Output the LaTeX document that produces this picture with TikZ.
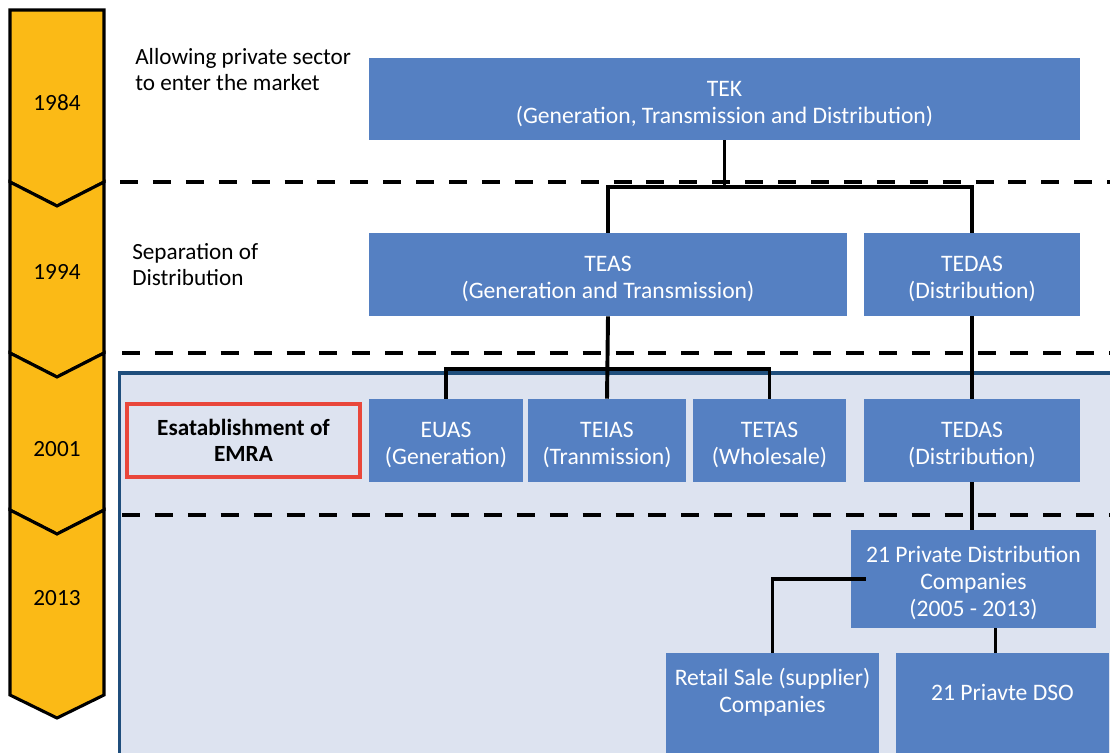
\documentclass[tikz,border=0pt]{standalone}
\usepackage{fontspec}
\setmainfont{Carlito}
\usepackage{tikz}
\newcommand{\px}{0.025cm}
\newcommand{\boxstrut}{\rule{0pt}{17.5pt}}
\definecolor{yearyellow}{HTML}{FBBA16}
\definecolor{boxblue}{HTML}{5580C2}
\definecolor{panelfill}{HTML}{DDE3F0}
\definecolor{panelline}{HTML}{1F4E7C}
\definecolor{emrared}{HTML}{E9473B}
\tikzset{
  orgbox/.style 2 args={rectangle, fill=boxblue, text=white, align=center, inner sep=0pt,
    minimum width=#1*\px, minimum height=#2*\px,
    font=\fontsize{16.8}{19.1}\selectfont},
  note/.style={align=left, inner sep=0pt, font=\fontsize{16.5}{18.5}\selectfont},
  year/.style={inner sep=0pt, font=\fontsize{16.5}{18.5}\selectfont},
  link/.style={line width=2.8pt},
  sepline/.style={line width=2.8pt, dash pattern=on 12.8pt off 10.6pt}
}

\begin{document}
\begin{tikzpicture}[x=\px, y=-\px]
\clip (0,0) rectangle (1110,752);
% regulated period panel
\draw[fill=panelfill, draw=panelline, line width=2.8pt] (119.5,373) rectangle (1130,780);
% time line
\begin{scope}[fill=yearyellow, draw=black, line width=2.2pt]
 \filldraw (10,10) -- (104,10) -- (104,182) -- (57,206) -- (10,182) -- cycle;
 \filldraw (10,182) -- (57,206) -- (104,182) -- (104,353) -- (57,377) -- (10,353) -- cycle;
 \filldraw (10,353) -- (57,377) -- (104,353) -- (104,510) -- (57,534) -- (10,510) -- cycle;
 \filldraw (10,510) -- (57,534) -- (104,510) -- (104,695) -- (57,718) -- (10,695) -- cycle;
\end{scope}
\node[year] (y1984) at (57,103) {1984};
\node[year] (y1994) at (57,272) {1994};
\node[year] (y2001) at (57,449) {2001};
\node[year] (y2013) at (57,598) {2013};
% period borders
\draw[sepline] (120,182) -- (1110,182);
\draw[sepline] (122,353) -- (1110,353);
\draw[sepline] (122,515) -- (1110,515);
% notes
\node[note, anchor=west] (privnote) at (135,70) {Allowing private sector\\to enter the market};
\node[note, anchor=west] (sepnote) at (132,265) {Separation of\\Distribution};
\node[draw=emrared, line width=2.8pt, minimum width=233*\px, minimum height=73*\px,
  align=center, inner sep=0pt, font=\fontsize{16.5}{18.5}\selectfont\bfseries]
  (emra) at (243.5,440.5) {Esatablishment of\\EMRA};
% companies
\node[orgbox={711}{82}] (tek) at (724.5,99) {\boxstrut TEK\\(Generation, Transmission and Distribution)};
\node[orgbox={478}{83}] (teas) at (608,274.5) {\boxstrut TEAS\\(Generation and Transmission)};
\node[orgbox={216}{83}] (tedasA) at (972,274.5) {\boxstrut TEDAS\\(Distribution)};
\node[orgbox={154}{83}] (euas) at (446,440.5) {\boxstrut EUAS\\(Generation)};
\node[orgbox={158}{83}] (teias) at (607,440.5) {\boxstrut TEIAS\\(Tranmission)};
\node[orgbox={153}{83}] (tetas) at (769.5,440.5) {\boxstrut TETAS\\(Wholesale)};
\node[orgbox={216}{83}] (tedasB) at (972,440.5) {\boxstrut TEDAS\\(Distribution)};
\node[orgbox={245}{98}] (pdc) at (973.5,579) {\boxstrut 21 Private Distribution\\Companies\\(2005 - 2013)};
\fill[boxblue] (666,700) rectangle (879,760);
\fill[boxblue] (896,700) rectangle (1109,760);
\node[orgbox={213}{78}] (retail) at (772.5,692) {Retail Sale (supplier)\\Companies};
\node[orgbox={213}{78}] (dso) at (1002.5,692) {21 Priavte DSO};
% links
\draw[link] (tek.south) -- ++(0,47) coordinate (j1);
\draw[link] (teas.north) |- (j1) -| (tedasA.north);
\draw[link] (teas.south) -- (teias.north);
\coordinate (j2) at (607,369);
\draw[link] (euas.north) |- (j2) -| (tetas.north);
\draw[link] (tedasA.south) -- (tedasB.north);
\draw[link] (tedasB.south) -- (tedasB.south |- pdc.north);
\draw[link] ([xshift=15*\px]pdc.west) -| (retail.north);
\draw[link] ([xshift=-7*\px]dso.north) -- ([xshift=-7*\px]dso.north |- pdc.south);
\end{tikzpicture}
\end{document}
